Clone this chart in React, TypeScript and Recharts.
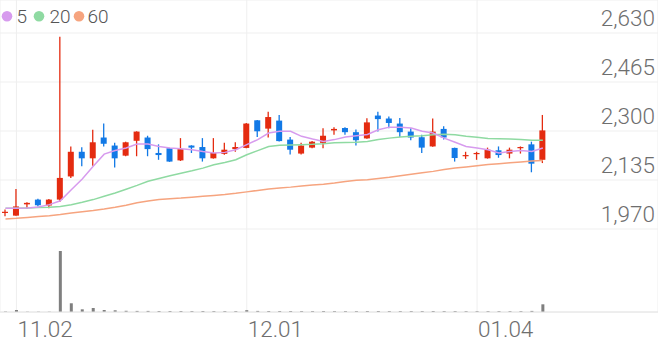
import React from 'react';
import { ComposedChart, Bar, Line, XAxis, YAxis, CartesianGrid, ReferenceLine } from 'recharts';

// ---- data ----
const dates = [
  '10.30',
  '11.02', '11.03', '11.04', '11.05', '11.06',
  '11.09', '11.10', '11.11', '11.12', '11.13',
  '11.16', '11.17', '11.18', '11.19', '11.20',
  '11.23', '11.24', '11.25', '11.26', '11.27',
  '11.30',
  '12.01', '12.02', '12.03', '12.04',
  '12.07', '12.08', '12.09', '12.10', '12.11',
  '12.14', '12.15', '12.16', '12.17', '12.18',
  '12.21', '12.22', '12.23', '12.24',
  '12.28', '12.29', '12.30',
  '01.04', '01.05', '01.06', '01.07', '01.08',
  '01.11', '01.12',
];

const openPrices = [
  2025, 2015, 2053, 2069, 2049, 2069, 2147, 2230, 2208, 2278,
  2251, 2217, 2267, 2278, 2226, 2242, 2201, 2251, 2246, 2208,
  2223, 2239, 2243, 2336, 2308, 2335, 2271, 2224, 2244, 2260,
  2302, 2310, 2296, 2275, 2352, 2342, 2325, 2298, 2279, 2248,
  2307, 2243, 2215, 2225, 2208, 2235, 2224, 2242, 2255, 2203,
];
const highPrices = [
  2036, 2105, 2060, 2072, 2071, 2617, 2248, 2245, 2304, 2325,
  2260, 2264, 2299, 2284, 2255, 2243, 2276, 2252, 2276, 2276,
  2260, 2262, 2327, 2337, 2365, 2354, 2280, 2260, 2266, 2309,
  2313, 2313, 2305, 2343, 2365, 2349, 2344, 2309, 2287, 2342,
  2316, 2244, 2230, 2230, 2244, 2248, 2244, 2248, 2264, 2354,
];
const lowPrices = [
  2013, 2015, 2037, 2046, 2040, 2061, 2142, 2181, 2183, 2248,
  2177, 2215, 2215, 2215, 2203, 2196, 2199, 2226, 2197, 2207,
  2220, 2230, 2242, 2280, 2278, 2265, 2221, 2221, 2242, 2242,
  2287, 2287, 2251, 2274, 2298, 2309, 2280, 2269, 2226, 2247,
  2271, 2197, 2206, 2203, 2207, 2210, 2208, 2224, 2161, 2192,
];
const closePrices = [
  2028, 2046, 2058, 2050, 2069, 2142, 2230, 2208, 2262, 2257,
  2208, 2262, 2298, 2239, 2219, 2197, 2239, 2244, 2208, 2226,
  2237, 2246, 2325, 2299, 2347, 2266, 2237, 2251, 2264, 2284,
  2307, 2296, 2269, 2329, 2340, 2327, 2296, 2278, 2244, 2298,
  2278, 2209, 2219, 2226, 2237, 2219, 2237, 2246, 2190, 2302,
];
const volumes = [
  8, 33, 5, 5, 5, 1000, 143, 44, 66, 33,
  28, 20, 18, 18, 16, 16, 16, 15, 16, 15,
  15, 15, 30, 18, 16, 16, 16, 15, 15, 16,
  15, 15, 15, 16, 16, 15, 15, 15, 15, 16,
  15, 15, 14, 14, 14, 14, 14, 14, 18, 126,
];
const ma5 = [
  2040, 2040, 2041, 2044, 2052, 2065, 2102, 2138, 2181, 2222,
  2234, 2243, 2256, 2256, 2248, 2243, 2240, 2237, 2231, 2226,
  2228, 2237, 2254, 2271, 2293, 2299, 2299, 2282, 2273, 2265,
  2271, 2280, 2284, 2288, 2304, 2313, 2313, 2310, 2299, 2293,
  2276, 2262, 2248, 2243, 2237, 2226, 2231, 2234, 2231, 2243,
];
const ma20 = [
  2040, 2040, 2041, 2042, 2043, 2046, 2052, 2060, 2069, 2080,
  2091, 2104, 2117, 2131, 2140, 2149, 2158, 2166, 2175, 2186,
  2194, 2203, 2220, 2234, 2248, 2252, 2253, 2254, 2255, 2257,
  2260, 2261, 2262, 2265, 2271, 2276, 2280, 2282, 2284, 2287,
  2289, 2287, 2282, 2279, 2275, 2274, 2273, 2271, 2269, 2269,
];
const ma60 = [
  2004, 2006, 2009, 2012, 2015, 2019, 2024, 2028, 2032, 2037,
  2043, 2050, 2058, 2064, 2069, 2072, 2074, 2077, 2080, 2083,
  2086, 2090, 2095, 2100, 2105, 2108, 2111, 2115, 2118, 2121,
  2125, 2130, 2134, 2136, 2140, 2144, 2149, 2154, 2159, 2164,
  2170, 2175, 2179, 2183, 2187, 2190, 2193, 2196, 2199, 2201,
];

const priceTicks = [1970, 2135, 2300, 2465, 2630];
const dateTicks = ['11.02', '12.01', '01.04'];
const legendItems = [
  { label: '5', color: '#d79bee' },
  { label: '20', color: '#8fdaa2' },
  { label: '60', color: '#f6a47f' },
];

// ---- layout / style ----
const W = 658;
const H = 342;
const FUTURE_SLOTS = 10;
const PRICE_DOMAIN: [number, number] = [1690.5, 2741.1];
const VOL_DOMAIN: [number, number] = [0, 5115];
const UP = '#e42b10';
const DOWN = '#1279e6';
const GRID = '#efefef';
const FONT = 'Roboto, "Noto Sans", sans-serif';

const rows: any[] = [
  ...dates.map((date, i) => ({
    date,
    open: openPrices[i],
    high: highPrices[i],
    low: lowPrices[i],
    close: closePrices[i],
    range: [lowPrices[i], highPrices[i]],
    vol: volumes[i],
    ma5: ma5[i],
    ma20: ma20[i],
    ma60: ma60[i],
  })),
  ...Array.from({ length: FUTURE_SLOTS }, (_, k) => ({ date: `+${k + 1}` })),
];

const Candle = (props: any) => {
  const { x, y, width, height, payload } = props;
  if (!payload || payload.high == null) return null;
  const top = Math.min(y, y + height);
  const bottom = Math.max(y, y + height);
  const span = payload.high - payload.low;
  const k = span > 0 ? (bottom - top) / span : 0;
  const yOf = (v: number) => top + (payload.high - v) * k;
  const up = payload.close >= payload.open;
  const color = up ? UP : DOWN;
  const cx = x + width / 2;
  const bTop = yOf(Math.max(payload.open, payload.close));
  const bBot = yOf(Math.min(payload.open, payload.close));
  return (
    <g>
      <line x1={cx} x2={cx} y1={top} y2={bottom} stroke={color} strokeWidth={1.3} />
      <rect x={x} y={bTop} width={width} height={Math.max(1.2, bBot - bTop)} fill={color} />
    </g>
  );
};

const PriceTick = (props: any) => {
  const { x, y, payload } = props;
  return (
    <text x={x} y={y - 6.5} textAnchor="end" fontFamily={FONT} fontWeight={300} fontSize={22.5} fill="#6e6e6e">
      {payload.value.toLocaleString('en-US')}
    </text>
  );
};

const DateTick = (props: any) => {
  const { x, y, payload } = props;
  return (
    <text x={x + 1} y={y + 25} textAnchor="start" fontFamily={FONT} fontWeight={300} fontSize={22.5} fill="#6e6e6e">
      {payload.value}
    </text>
  );
};

const LegendOverlay = () => {
  const circleX = [7, 39, 79];
  const textX = [16.5, 49.5, 87.5];
  return (
    <svg width={W} height={30} style={{ position: 'absolute', left: 0, top: 0, pointerEvents: 'none' }}>
      {legendItems.map((it, i) => (
        <g key={it.label}>
          <circle cx={circleX[i]} cy={16.3} r={5.3} fill={it.color} />
          <text x={textX[i]} y={23} fontFamily={FONT} fontWeight={300} fontSize={19} fill="#555">
            {it.label}
          </text>
        </g>
      ))}
    </svg>
  );
};

export default function App() {
  return (
    <div style={{ position: 'relative', width: W, height: H }}>
      <style>{'body{margin:0;}'}</style>
      <ComposedChart width={W} height={H} data={rows} margin={{ top: 0, right: 0, bottom: 0, left: 0 }}>
        <CartesianGrid yAxisId="p" stroke={GRID} strokeWidth={1} />
        <XAxis
          dataKey="date"
          ticks={dateTicks}
          interval={0}
          axisLine={false}
          tickLine={false}
          tickSize={0}
          tickMargin={0}
          height={30}
          tick={<DateTick />}
        />
        <XAxis xAxisId="v" dataKey="date" hide />
        <YAxis
          yAxisId="p"
          orientation="right"
          mirror
          domain={PRICE_DOMAIN}
          allowDataOverflow
          ticks={priceTicks}
          axisLine={false}
          tickLine={false}
          tickSize={0}
          tickMargin={3}
          tick={<PriceTick />}
        />
        <YAxis yAxisId="v" hide domain={VOL_DOMAIN} allowDataOverflow />
        <ReferenceLine yAxisId="v" xAxisId="v" y={0} stroke="#e4e4e4" strokeWidth={1} />
        <Bar xAxisId="v" yAxisId="v" dataKey="vol" fill="#7f7f7f" barSize={3} isAnimationActive={false} />
        <Line yAxisId="p" dataKey="ma60" stroke="#f6a47f" strokeWidth={1.5} dot={false} activeDot={false} isAnimationActive={false} />
        <Line yAxisId="p" dataKey="ma20" stroke="#8fdaa2" strokeWidth={1.5} dot={false} activeDot={false} isAnimationActive={false} />
        <Line yAxisId="p" dataKey="ma5" stroke="#d79bee" strokeWidth={1.5} dot={false} activeDot={false} isAnimationActive={false} />
        <Bar yAxisId="p" dataKey="range" barSize={6} shape={<Candle />} activeBar={false} isAnimationActive={false} />
      </ComposedChart>
      <LegendOverlay />
    </div>
  );
}
